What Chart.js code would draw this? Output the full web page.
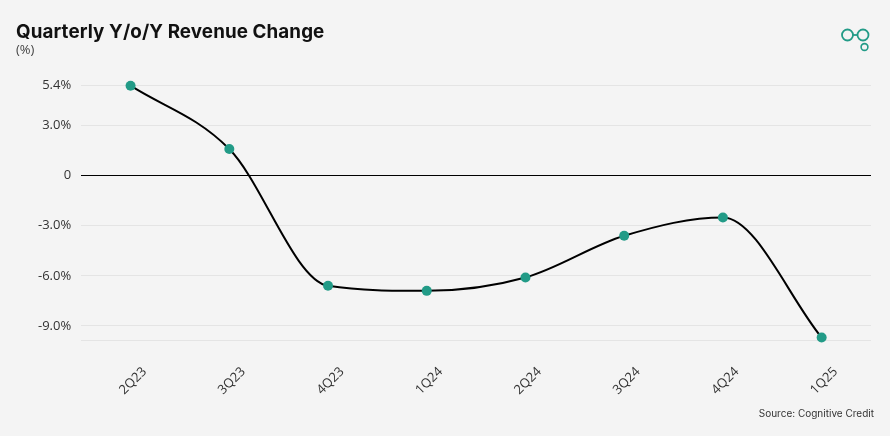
<!DOCTYPE html>
<html>
<head>
<meta charset="utf-8">
<script src="https://cdn.jsdelivr.net/npm/chart.js@4.4.1/dist/chart.umd.min.js"></script>
<style>
  html, body { margin:0; padding:0; background:#f4f4f4; }
  #wrap { position:relative; width:890px; height:436px; background:#f4f4f4; overflow:hidden; }
  #c { position:absolute; left:0; top:0; }
  .title { position:absolute; left:16px; top:20px; font-family:Inter, "DejaVu Sans", sans-serif; font-weight:700; font-size:18.8px; color:#111; letter-spacing:0.1px; }
  .sub { position:absolute; left:16px; top:40px; font-family:"Open Sans", sans-serif; font-size:13px; color:#444; }
  .src { position:absolute; right:16px; top:407px; font-family:Inter, "Open Sans", sans-serif; font-size:10px; color:#333; }
  .logo { position:absolute; left:838px; top:26px; }
</style>
</head>
<body>
<div id="wrap">
  <canvas id="c" width="890" height="436"></canvas>
  <div class="title">Quarterly Y/o/Y Revenue Change</div>
  <div class="sub">(%)</div>
  <div class="src">Source: Cognitive Credit</div>
  <svg class="logo" width="36" height="28" viewBox="0 0 36 28">
    <circle cx="9.5" cy="9" r="5.5" fill="none" stroke="#229b87" stroke-width="1.8"/>
    <circle cx="25" cy="9" r="5.5" fill="none" stroke="#229b87" stroke-width="1.8"/>
    <line x1="15" y1="9" x2="19.5" y2="9" stroke="#229b87" stroke-width="1.8"/>
    <circle cx="26.5" cy="21" r="3.4" fill="none" stroke="#229b87" stroke-width="1.6"/>
  </svg>
</div>
<script>
const categories = ["2Q23","3Q23","4Q23","1Q24","2Q24","3Q24","4Q24","1Q25"];
const revenueChange = [5.4, 1.6, -6.6, -6.9, -6.1, -3.6, -2.5, -9.7];
const yTickValues = [5.4, 3.0, 0, -3.0, -6.0, -9.0];
const yMin = -9.85;
const yMax = 5.5;

const lineColor = '#000000';
const pointColor = '#229b87';

new Chart(document.getElementById('c'), {
  type: 'line',
  data: {
    labels: categories,
    datasets: [{
      data: revenueChange,
      borderColor: lineColor,
      borderWidth: 2,
      cubicInterpolationMode: 'monotone',
      pointRadius: 5,
      pointHoverRadius: 5,
      pointBackgroundColor: pointColor,
      pointBorderWidth: 0,
      clip: false,
      fill: false
    }]
  },
  options: {
    responsive: false,
    animation: false,
    devicePixelRatio: 1,
    layout: { padding: { left: 28, right: 19, top: 84, bottom: 14 } },
    plugins: { legend: { display: false }, tooltip: { enabled: false } },
    scales: {
      x: {
        offset: true,
        grid: { display: false, drawTicks: false },
        border: { display: false },
        ticks: {
          minRotation: 45, maxRotation: 45,
          padding: 24,
          labelOffset: 14,
          color: '#333',
          font: { family: '"Open Sans", sans-serif', size: 13 }
        }
      },
      y: {
        min: yMin, max: yMax,
        border: { display: false },
        afterBuildTicks: (axis) => {
          axis.ticks = yTickValues.concat([yMin]).map(v => ({ value: v }));
        },
        grid: {
          drawTicks: false,
          color: (ctx) => (ctx.tick && ctx.tick.value === 0) ? '#000000' : '#e4e4e4',
          lineWidth: 1
        },
        ticks: {
          padding: 10,
          color: '#333',
          font: { family: '"Open Sans", sans-serif', size: 13 },
          callback: (v) => v === 0 ? '0' : (v === yMin ? '' : v.toFixed(1) + '%')
        }
      }
    }
  }
});
</script>
</body>
</html>
